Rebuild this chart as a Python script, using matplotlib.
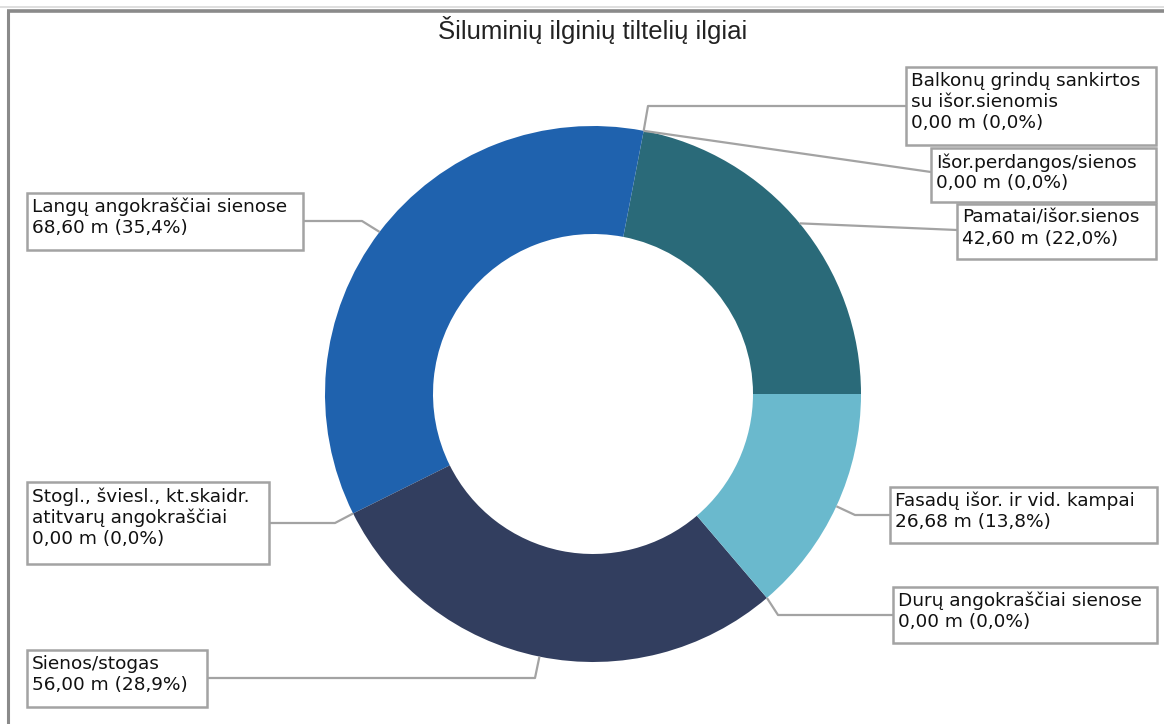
import matplotlib
matplotlib.use("Agg")
import matplotlib.pyplot as plt
from matplotlib.patches import Rectangle
import numpy as np

# duomenys: ilgiai metrais, prieš laikrodžio rodyklę nuo 0°
pavadinimai = [
    "Pamatai/išor.sienos",
    "Išor.perdangos/sienos",
    "Balkonų grindų sankirtos\nsu išor.sienomis",
    "Langų angokraščiai sienose",
    "Stogl., šviesl., kt.skaidr.\natitvarų angokraščiai",
    "Sienos/stogas",
    "Durų angokraščiai sienose",
    "Fasadų išor. ir vid. kampai",
]
ilgiai = [42.60, 0.00, 0.00, 68.60, 0.00, 56.00, 0.00, 26.68]
spalvos = ["#2a6a79", "#2a6a79", "#2a6a79", "#1f62ae",
           "#1f62ae", "#323e5f", "#323e5f", "#6ab9cd"]

W, H = 1164, 724

# etikečių rėmeliai (kairė, viršus, dešinė, apačia) ekrano pikseliais
remeliai = [
    (957, 204, 1156, 259),
    (931, 148, 1156, 202),
    (906, 67, 1156, 145),
    (27, 193, 303, 250),
    (27, 482, 269, 564),
    (27, 650, 207, 707),
    (893, 587, 1157, 643),
    (890, 487, 1157, 543),
]
# vedančiųjų linijų lūžio taškai
luziai = [
    [(957, 230)],
    [(931, 172)],
    [(648, 106), (906, 106)],
    [(362, 221), (303, 221)],
    [(335, 523), (269, 523)],
    [(535, 678), (207, 678)],
    [(778, 615), (893, 615)],
    [(855, 515), (890, 515)],
]

fig = plt.figure(figsize=(W / 100, H / 100), dpi=100)
ax = fig.add_axes([0, 0, 1, 1])

cx, cy, R, r_in = 593, H - 394, 268, 160
wedges, _ = ax.pie(ilgiai, colors=spalvos, startangle=0, counterclock=True,
                   center=(cx, cy), radius=R, frame=True,
                   wedgeprops=dict(width=R - r_in, linewidth=0))
ax.set_xlim(0, W)
ax.set_ylim(0, H)
ax.set_aspect("equal")
ax.axis("off")


def kablelis(x, d):
    return f"{x:.{d}f}".replace(".", ",")


suma = sum(ilgiai)
pilka = "#a3a3a3"
for w, v, vardas, rem, lz in zip(wedges, ilgiai, pavadinimai, remeliai, luziai):
    kampas = np.deg2rad((w.theta1 + w.theta2) / 2)
    x0 = cx + R * np.cos(kampas)
    y0 = cy + R * np.sin(kampas)
    xs = [x0] + [p[0] for p in lz]
    ys = [y0] + [H - p[1] for p in lz]
    ax.plot(xs, ys, color=pilka, lw=1.6, solid_capstyle="butt", zorder=3)

    l, t, rr, b = rem
    ax.add_patch(Rectangle((l, H - b), rr - l, b - t, facecolor="white",
                           edgecolor=pilka, lw=1.8, zorder=4))
    reiksme = f"{kablelis(v, 2)} m ({kablelis(v / suma * 100, 1)}%)"
    ax.text(l + 5, H - t - 5, vardas + "\n" + reiksme, ha="left", va="top",
            fontsize=13.3, family="DejaVu Sans", color="#111111",
            linespacing=1.2, zorder=5)

# pavadinimas
ax.text(593, H - 30, "Šiluminių ilginių tiltelių ilgiai", ha="center", va="center",
        fontsize=18.5, family=["Liberation Sans Narrow", "Liberation Sans"], color="#222222")

# diagramos rėmas
ax.plot([0, W], [H - 7, H - 7], color="#d9d9d9", lw=1.2)
ax.plot([7, W], [H - 11, H - 11], color="#8a8a8a", lw=2.6, solid_capstyle="butt")
ax.plot([8, 8], [0, H - 11], color="#8a8a8a", lw=2.2, solid_capstyle="butt")

fig.savefig("out.png", dpi=100, facecolor="white")
